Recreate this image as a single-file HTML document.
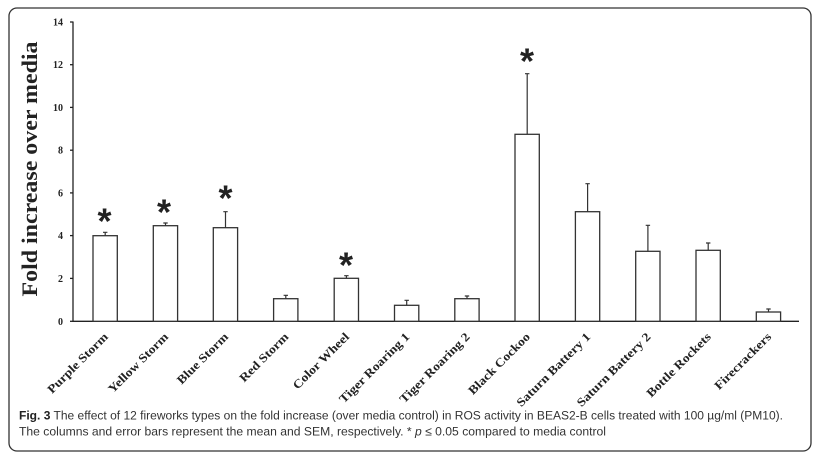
<!DOCTYPE html>
<html>
<head>
<meta charset="utf-8">
<style>
html,body{margin:0;padding:0;background:#fff;}
body{width:819px;height:462px;overflow:hidden;}
svg{display:block;}
.tick{font-family:"Liberation Serif",serif;font-weight:bold;font-size:10px;fill:#222;}
.xl{font-family:"Liberation Serif",serif;font-weight:bold;font-size:12px;fill:#222;}
.ast{font-family:"Liberation Sans",sans-serif;font-weight:bold;font-size:36px;fill:#222;}
.cap{font-family:"Liberation Sans",sans-serif;font-size:12.3px;fill:#333;}
</style>
</head>
<body>
<svg width="819" height="462" viewBox="0 0 819 462" xmlns="http://www.w3.org/2000/svg">
  <rect x="0" y="0" width="819" height="462" fill="#fff"/>
  <rect x="9" y="8" width="802" height="443" rx="8" ry="8" fill="none" stroke="#333" stroke-width="1.3"/>

  <!-- Y axis title -->
  <text transform="translate(37,169) rotate(-90)" text-anchor="middle" font-family="Liberation Serif, serif" font-weight="bold" font-size="22" fill="#222" textLength="255" lengthAdjust="spacingAndGlyphs">Fold increase over media</text>

  <!-- axes -->
  <g stroke="#222" stroke-width="1.3" fill="none">
    <line x1="73" y1="21.5" x2="73" y2="321.3"/>
    <line x1="72.4" y1="321.3" x2="799" y2="321.3"/>
    <line x1="70" y1="22" x2="73" y2="22"/>
    <line x1="70" y1="64.7" x2="73" y2="64.7"/>
    <line x1="70" y1="107.4" x2="73" y2="107.4"/>
    <line x1="70" y1="150.2" x2="73" y2="150.2"/>
    <line x1="70" y1="192.9" x2="73" y2="192.9"/>
    <line x1="70" y1="235.6" x2="73" y2="235.6"/>
    <line x1="70" y1="278.4" x2="73" y2="278.4"/>
    <line x1="70" y1="321.3" x2="73" y2="321.3"/>
  </g>

  <!-- tick labels -->
  <g class="tick" text-anchor="end">
    <text x="63" y="25.5">14</text>
    <text x="63" y="68.2">12</text>
    <text x="63" y="110.9">10</text>
    <text x="63" y="153.7">8</text>
    <text x="63" y="196.4">6</text>
    <text x="63" y="239.1">4</text>
    <text x="63" y="281.9">2</text>
    <text x="63" y="324.8">0</text>
  </g>

  <!-- bars -->
  <g stroke="#333" stroke-width="1.3" fill="#fff">
    <rect x="93" y="235.7" width="24.3" height="85.6"/>
    <rect x="153.3" y="225.7" width="24.3" height="95.6"/>
    <rect x="213.3" y="227.7" width="24.3" height="93.6"/>
    <rect x="273.6" y="298.7" width="24.3" height="22.6"/>
    <rect x="334.2" y="278.3" width="24.3" height="43"/>
    <rect x="394.5" y="305.3" width="24.3" height="16"/>
    <rect x="454.8" y="298.7" width="24.3" height="22.6"/>
    <rect x="515" y="134.3" width="24.3" height="187"/>
    <rect x="575.4" y="211.7" width="24.3" height="109.6"/>
    <rect x="635.7" y="251.3" width="24.3" height="70"/>
    <rect x="696" y="250.3" width="24.3" height="71"/>
    <rect x="756.3" y="312" width="24.3" height="9.3"/>
  </g>

  <!-- error bars -->
  <g stroke="#333" stroke-width="1.2" fill="none">
    <path d="M105.2 235.7 V232.3 M103 232.3 H107.4"/>
    <path d="M165.5 225.7 V223 M163.3 223 H167.7"/>
    <path d="M225.5 227.7 V211.7 M223.3 211.7 H227.7"/>
    <path d="M285.8 298.7 V295.3 M283.6 295.3 H288"/>
    <path d="M346.4 278.3 V275.7 M344.2 275.7 H348.6"/>
    <path d="M406.7 305.3 V300.3 M404.5 300.3 H408.9"/>
    <path d="M467 298.7 V296 M464.8 296 H469.2"/>
    <path d="M527.2 134.3 V73.7 M525 73.7 H529.4"/>
    <path d="M587.6 211.7 V183.7 M585.4 183.7 H589.8"/>
    <path d="M647.9 251.3 V225.3 M645.7 225.3 H650.1"/>
    <path d="M708.2 250.3 V243 M706 243 H710.4"/>
    <path d="M768.5 312 V309 M766.3 309 H770.7"/>
  </g>

  <!-- asterisks -->
  <g class="ast" text-anchor="middle">
    <text x="104.5" y="233.5">*</text>
    <text x="164" y="224.5">*</text>
    <text x="225.5" y="210.5">*</text>
    <text x="346" y="277.5">*</text>
    <text x="527" y="73.5">*</text>
  </g>

  <!-- x labels -->
  <g class="xl" text-anchor="end">
    <text transform="translate(108.7,337.5) rotate(-45) scale(1.15,1)">Purple Storm</text>
    <text transform="translate(169,337.5) rotate(-45) scale(1.15,1)">Yellow Storm</text>
    <text transform="translate(229,337.5) rotate(-45) scale(1.15,1)">Blue Storm</text>
    <text transform="translate(289.3,337.5) rotate(-45) scale(1.15,1)">Red Storm</text>
    <text transform="translate(349.9,337.5) rotate(-45) scale(1.15,1)">Color Wheel</text>
    <text transform="translate(410.2,337.5) rotate(-45) scale(1.15,1)">Tiger Roaring 1</text>
    <text transform="translate(470.5,337.5) rotate(-45) scale(1.15,1)">Tiger Roaring 2</text>
    <text transform="translate(530.7,337.5) rotate(-45) scale(1.15,1)">Black Cockoo</text>
    <text transform="translate(591.1,337.5) rotate(-45) scale(1.15,1)">Saturn Battery 1</text>
    <text transform="translate(651.4,337.5) rotate(-45) scale(1.15,1)">Saturn Battery 2</text>
    <text transform="translate(711.7,337.5) rotate(-45) scale(1.15,1)">Bottle Rockets</text>
    <text transform="translate(772,337.5) rotate(-45) scale(1.15,1)">Firecrackers</text>
  </g>

  <!-- caption -->
  <text class="cap" x="19" y="419.5" textLength="764" lengthAdjust="spacingAndGlyphs"><tspan font-weight="bold" fill="#222">Fig. 3</tspan> The effect of 12 fireworks types on the fold increase (over media control) in ROS activity in BEAS2-B cells treated with 100 µg/ml (PM10).</text>
  <text class="cap" x="19" y="435.5" textLength="587" lengthAdjust="spacingAndGlyphs">The columns and error bars represent the mean and SEM, respectively. * <tspan font-style="italic">p</tspan> ≤ 0.05 compared to media control</text>
</svg>
</body>
</html>
